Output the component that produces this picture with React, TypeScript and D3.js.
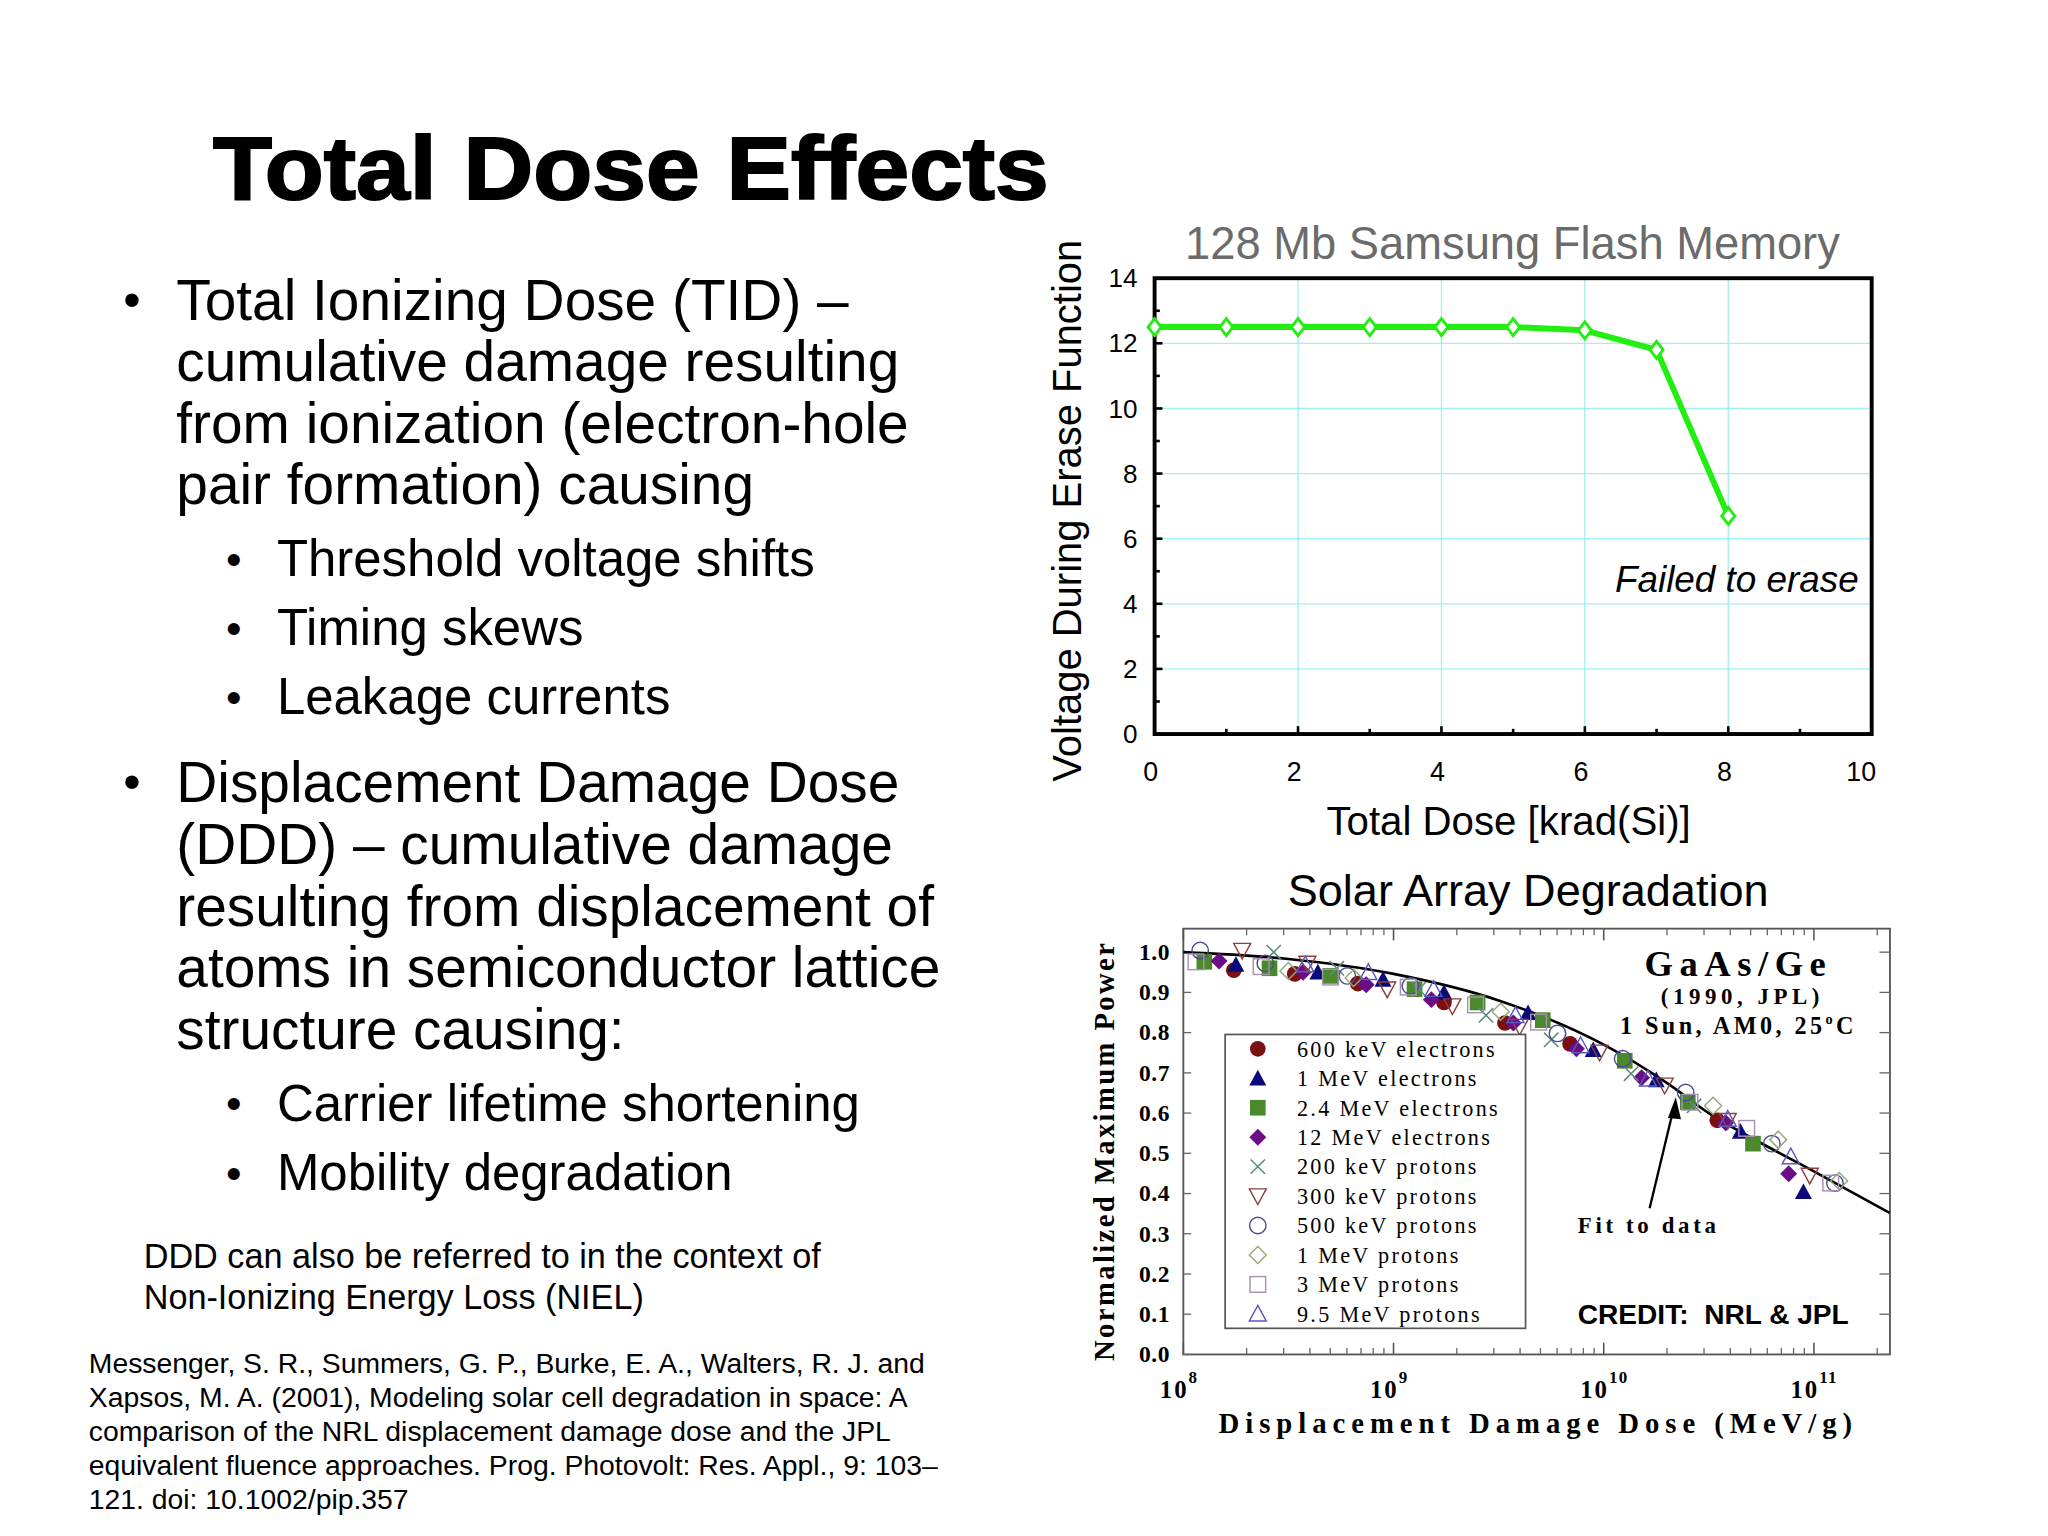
import React from 'react';
import * as d3 from 'd3';

// ---- top chart: 128 Mb Samsung flash ----
const flashDose = [0, 1, 2, 3, 4, 5, 6, 7, 8];
const flashVoltage = [12.5, 12.5, 12.5, 12.5, 12.5, 12.5, 12.4, 11.8, 6.7];
const flashXTicks = [0, 2, 4, 6, 8, 10];
const flashYTicks = [0, 2, 4, 6, 8, 10, 12, 14];

// ---- bottom chart: solar array degradation, [log10(DDD), P/P0] ----
const fitCurve: [number, number][] = [
  [8, 1.0], [8.5, 0.983], [9, 0.946], [9.5, 0.88], [10, 0.77],
  [10.3, 0.675], [10.5, 0.6], [10.75, 0.525], [11, 0.455], [11.36, 0.352],
];
const e600keV: [number, number][] = [
  [8.24, 0.955], [8.53, 0.946], [8.83, 0.922], [9.24, 0.875], [9.53, 0.824], [9.84, 0.772], [10.54, 0.582],
];
const e1MeV: [number, number][] = [
  [8.25, 0.969], [8.64, 0.95], [8.95, 0.932], [9.24, 0.899], [9.64, 0.849], [9.95, 0.757], [10.25, 0.682], [10.65, 0.554], [10.95, 0.404],
];
const e24MeV: [number, number][] = [
  [8.1, 0.976], [8.41, 0.96], [8.7, 0.941], [9.1, 0.908], [9.4, 0.875], [9.71, 0.831], [10.1, 0.73], [10.4, 0.627], [10.71, 0.524],
];
const e12MeV: [number, number][] = [
  [8.17, 0.978], [8.57, 0.95], [8.87, 0.919], [9.18, 0.882], [9.57, 0.824], [9.87, 0.76], [10.18, 0.688], [10.58, 0.576], [10.88, 0.449],
];
const p200keV: [number, number][] = [
  [8.43, 1.0], [8.73, 0.96], [9.12, 0.908], [9.44, 0.843], [9.75, 0.782], [10.13, 0.698], [10.43, 0.618],
];
const p300keV: [number, number][] = [
  [8.28, 1.004], [8.59, 0.972], [8.97, 0.908], [9.28, 0.866], [9.6, 0.815], [9.98, 0.751], [10.29, 0.669], [10.59, 0.581], [10.98, 0.445],
];
const p500keV: [number, number][] = [
  [8.08, 1.004], [8.39, 0.972], [8.78, 0.941], [9.08, 0.916], [9.78, 0.798], [10.09, 0.735], [10.39, 0.651], [10.8, 0.524], [11.1, 0.426],
];
const p1MeV: [number, number][] = [
  [8.5, 0.953], [8.81, 0.936], [9.51, 0.852], [10.52, 0.618], [10.83, 0.534], [11.12, 0.431],
];
const p3MeV: [number, number][] = [
  [8.06, 0.976], [8.37, 0.964], [8.7, 0.938], [9.07, 0.913], [9.39, 0.869], [9.69, 0.826], [10.41, 0.627], [10.68, 0.562], [11.08, 0.426],
];
const p95MeV: [number, number][] = [
  [8.58, 0.969], [8.88, 0.95], [9.19, 0.908], [9.58, 0.843], [9.89, 0.768], [10.21, 0.685], [10.59, 0.585], [10.89, 0.492],
];

type Shape = 'circle' | 'tri' | 'square' | 'diamond' | 'x' | 'triDown' | 'oCircle' | 'oDiamond' | 'oSquare' | 'oTri';
const solarSeries: { name: string; shape: Shape; color: string; data: [number, number][] }[] = [
  { name: '600 keV electrons', shape: 'circle', color: '#7b0f12', data: e600keV },
  { name: '1 MeV electrons', shape: 'tri', color: '#0a0a7a', data: e1MeV },
  { name: '2.4 MeV electrons', shape: 'square', color: '#4b8a2c', data: e24MeV },
  { name: '12 MeV electrons', shape: 'diamond', color: '#6a0d86', data: e12MeV },
  { name: '200 keV protons', shape: 'x', color: '#5a8c80', data: p200keV },
  { name: '300 keV protons', shape: 'triDown', color: '#8c4040', data: p300keV },
  { name: '500 keV protons', shape: 'oCircle', color: '#4c4c8c', data: p500keV },
  { name: '1 MeV protons', shape: 'oDiamond', color: '#90aa78', data: p1MeV },
  { name: '3 MeV protons', shape: 'oSquare', color: '#a890b0', data: p3MeV },
  { name: '9.5 MeV protons', shape: 'oTri', color: '#5a5abf', data: p95MeV },
];
const solarYTicks = [0, 0.1, 0.2, 0.3, 0.4, 0.5, 0.6, 0.7, 0.8, 0.9, 1.0];
const solarXDecades = [8, 9, 10, 11];

const SANS = "'Liberation Sans', Arial, Helvetica, sans-serif";
const SERIF = "'Liberation Serif', 'Times New Roman', serif";

function Marker({ shape, x, y, color }: { shape: Shape; x: number; y: number; color: string }) {
  const t = `translate(${x},${y})`;
  switch (shape) {
    case 'circle':
      return <circle cx={x} cy={y} r={6} fill={color} />;
    case 'tri':
      return <path transform={t} d="M0,-6.5L6.5,5.5L-6.5,5.5Z" fill={color} />;
    case 'square':
      return <rect x={x - 6} y={y - 6} width={12} height={12} fill={color} />;
    case 'diamond':
      return <path transform={t} d="M0,-6.5L6.5,0L0,6.5L-6.5,0Z" fill={color} />;
    case 'x':
      return <path transform={t} d="M-5.5,-5.5L5.5,5.5M-5.5,5.5L5.5,-5.5" stroke={color} strokeWidth={1.2} fill="none" />;
    case 'triDown':
      return <path transform={t} d="M-6.5,-5.5L6.5,-5.5L0,6.5Z" stroke={color} strokeWidth={1.1} fill="none" />;
    case 'oCircle':
      return <circle cx={x} cy={y} r={6.3} stroke={color} strokeWidth={1.1} fill="none" />;
    case 'oDiamond':
      return <path transform={t} d="M0,-6.5L6.5,0L0,6.5L-6.5,0Z" stroke={color} strokeWidth={1.1} fill="none" />;
    case 'oSquare':
      return <rect x={x - 6} y={y - 6} width={12} height={12} stroke={color} strokeWidth={1.1} fill="none" />;
    case 'oTri':
      return <path transform={t} d="M0,-6.5L6.5,5.5L-6.5,5.5Z" stroke={color} strokeWidth={1.1} fill="none" />;
  }
}

function FlashChart() {
  const L = 884, R = 1433, T = 213, B = 562;
  const x = d3.scaleLinear().domain([0, 10]).range([L, R]);
  const y = d3.scaleLinear().domain([0, 14]).range([B, T]);
  const pts = flashDose.map((d, i) => [x(d), y(flashVoltage[i])] as [number, number]);
  const line = d3.line()(pts) || '';
  const gridX = flashXTicks.filter((v) => v > 0 && v < 10);
  const gridY = flashYTicks.filter((v) => v > 0 && v < 14);
  const minorX = d3.range(1, 10);
  const minorY = d3.range(1, 14);
  return (
    <g>
      <text x={1158} y={198} textAnchor="middle" fontFamily={SANS} fontSize={34.7} fill="#6b6b6b">
        128 Mb Samsung Flash Memory
      </text>
      {gridX.map((v) => (
        <line key={'gx' + v} x1={x(v)} x2={x(v)} y1={T} y2={B} stroke="#9ff0f0" strokeWidth={1} />
      ))}
      {gridY.map((v) => (
        <line key={'gy' + v} x1={L} x2={R} y1={y(v)} y2={y(v)} stroke="#9ff0f0" strokeWidth={1} />
      ))}
      {minorX.map((v) => (
        <line key={'mx' + v} x1={x(v)} x2={x(v)} y1={B} y2={B - (v % 2 === 0 ? 6 : 4)} stroke="#000" strokeWidth={2} />
      ))}
      {minorY.map((v) => (
        <line key={'my' + v} x1={L} x2={L + (v % 2 === 0 ? 6 : 4)} y1={y(v)} y2={y(v)} stroke="#000" strokeWidth={2} />
      ))}
      <rect x={L} y={T} width={R - L} height={B - T} fill="none" stroke="#000" strokeWidth={3} />
      <path d={line} fill="none" stroke="#22ee11" strokeWidth={4.5} strokeLinejoin="round" />
      {pts.map(([px, py], i) => (
        <path key={i} transform={`translate(${px},${py})`} d="M0,-6.5L5,0L0,6.5L-5,0Z" fill="#fff" stroke="#22ee11" strokeWidth={2.2} />
      ))}
      {flashYTicks.map((v) => (
        <text key={'yl' + v} x={871} y={y(v) + 7} textAnchor="end" fontFamily={SANS} fontSize={20} fill="#000">
          {v}
        </text>
      ))}
      {flashXTicks.map((v) => (
        <text key={'xl' + v} x={x(v) - (v === 10 ? 8 : 3)} y={598} textAnchor="middle" fontFamily={SANS} fontSize={20.5} fill="#000">
          {v}
        </text>
      ))}
      <text transform="translate(828,391) rotate(-90)" textAnchor="middle" fontFamily={SANS} fontSize={30.6} fill="#000">
        Voltage During Erase Function
      </text>
      <text x={1155} y={639} textAnchor="middle" fontFamily={SANS} fontSize={30.8} fill="#000">
        Total Dose [krad(Si)]
      </text>
      <text x={1423} y={453} textAnchor="end" fontFamily={SANS} fontStyle="italic" fontSize={28.2} fill="#000">
        Failed to erase
      </text>
    </g>
  );
}

function SolarChart() {
  const L = 906, R = 1447, T = 711, B = 1037;
  const x = d3.scaleLog().domain([1e8, 2.3e11]).range([L, R]);
  const y = d3.scaleLinear().domain([0, 1]).range([B, 729]);
  const toXY = (d: [number, number]) => [x(Math.pow(10, d[0])), y(d[1])] as [number, number];
  const fit = d3.line().curve(d3.curveMonotoneX)(fitCurve.map(toXY)) || '';
  const minor: number[] = [];
  solarXDecades.forEach((e) => {
    for (let k = 2; k <= 9; k++) {
      const v = k * Math.pow(10, e);
      if (v < 2.3e11) minor.push(v);
    }
  });
  const legendRows = solarSeries.map((s, i) => ({ ...s, yy: 803 + i * 22.55 }));
  return (
    <g>
      <text x={1170} y={694} textAnchor="middle" fontFamily={SANS} fontSize={34.5} fill="#000">
        Solar Array Degradation
      </text>
      <rect x={L} y={T} width={R - L} height={B - T} fill="#fff" stroke="#555" strokeWidth={1.4} />
      {solarYTicks.map((v) => (
        <g key={'yt' + v}>
          <line x1={R} x2={R - 8} y1={y(v)} y2={y(v)} stroke="#666" strokeWidth={1} />
          <line x1={L} x2={L + 6} y1={y(v)} y2={y(v)} stroke="#666" strokeWidth={1} />
          <text x={896} y={y(v) + 6} textAnchor="end" fontFamily={SERIF} fontWeight="bold" fontSize={18} letterSpacing={0.5} fill="#000">
            {v.toFixed(1)}
          </text>
        </g>
      ))}
      {minor.map((v, i) => (
        <g key={'mn' + i}>
          <line x1={x(v)} x2={x(v)} y1={B} y2={B - 5} stroke="#666" strokeWidth={1} />
          <line x1={x(v)} x2={x(v)} y1={T} y2={T + 5} stroke="#666" strokeWidth={1} />
        </g>
      ))}
      {solarXDecades.map((e) => (
        <g key={'xd' + e}>
          <line x1={x(Math.pow(10, e))} x2={x(Math.pow(10, e))} y1={B} y2={B - 9} stroke="#555" strokeWidth={1.2} />
          <line x1={x(Math.pow(10, e))} x2={x(Math.pow(10, e))} y1={T} y2={T + 9} stroke="#555" strokeWidth={1.2} />
          <text x={x(Math.pow(10, e)) - 18} y={1070} fontFamily={SERIF} fontWeight="bold" fontSize={19} letterSpacing={1.5} fill="#000">
            10
            <tspan dy={-11} fontSize={13} letterSpacing={1}>
              {e}
            </tspan>
          </text>
        </g>
      ))}
      <path d={fit} fill="none" stroke="#000" strokeWidth={2} />
      {solarSeries.map((s) =>
        s.data.map((d, i) => {
          const [px, py] = toXY(d);
          return <Marker key={s.name + i} shape={s.shape} x={px} y={py} color={s.color} />;
        })
      )}
      <rect x={938} y={792} width={230} height={225} fill="#fff" stroke="#555" strokeWidth={1.3} />
      {legendRows.map((s) => (
        <g key={'lg' + s.name}>
          <Marker shape={s.shape} x={963} y={s.yy} color={s.color} />
          <text x={993} y={s.yy + 6} fontFamily={SERIF} fontSize={17} letterSpacing={1.75} fill="#000">
            {s.name}
          </text>
        </g>
      ))}
      <text x={1331} y={747} textAnchor="middle" fontFamily={SERIF} fontWeight="bold" fontSize={28} letterSpacing={5} fill="#000">
        GaAs/Ge
      </text>
      <text x={1334} y={769} textAnchor="middle" fontFamily={SERIF} fontWeight="bold" fontSize={17.5} letterSpacing={3.5} fill="#000">
        (1990, JPL)
      </text>
      <text x={1331} y={792} textAnchor="middle" fontFamily={SERIF} fontWeight="bold" fontSize={18.5} letterSpacing={2.6} fill="#000">
        1 Sun, AM0, 25
        <tspan dy={-8} fontSize={11}>o</tspan>
        <tspan dy={8}>C</tspan>
      </text>
      <line x1={1263} y1={925} x2={1281} y2={850} stroke="#000" strokeWidth={1.8} />
      <path d="M1283,840L1277,856L1287,857Z" fill="#000" />
      <text x={1208} y={944} fontFamily={SERIF} fontWeight="bold" fontSize={17.5} letterSpacing={2.8} fill="#000">
        Fit to data
      </text>
      <text x={1208} y={1014} fontFamily={SANS} fontWeight="bold" fontSize={21.5} fill="#000" xmlSpace="preserve">
        CREDIT:  NRL &amp; JPL
      </text>
      <text transform="translate(853,882) rotate(-90)" textAnchor="middle" fontFamily={SERIF} fontWeight="bold" fontSize={22} textLength={320} lengthAdjust="spacing" fill="#000">
        Normalized Maximum Power
      </text>
      <text x={933} y={1097} fontFamily={SERIF} fontWeight="bold" fontSize={22} textLength={485} lengthAdjust="spacing" fill="#000">
        Displacement Damage Dose (MeV/g)
      </text>
    </g>
  );
}

const mainBullet1 = [
  'Total Ionizing Dose (TID) –',
  'cumulative damage resulting',
  'from ionization (electron-hole',
  'pair formation) causing',
];
const subBullets1 = ['Threshold voltage shifts', 'Timing skews', 'Leakage currents'];
const mainBullet2 = [
  'Displacement Damage Dose',
  '(DDD) – cumulative damage',
  'resulting from displacement of',
  'atoms in semiconductor lattice',
  'structure causing:',
];
const subBullets2 = ['Carrier lifetime shortening', 'Mobility degradation'];
const nielNote = ['DDD can also be referred to in the context of', 'Non-Ionizing Energy Loss (NIEL)'];
const reference = [
  'Messenger, S. R., Summers, G. P., Burke, E. A., Walters, R. J. and',
  'Xapsos, M. A. (2001), Modeling solar cell degradation in space: A',
  'comparison of the NRL displacement damage dose and the JPL',
  'equivalent fluence approaches. Prog. Photovolt: Res. Appl., 9: 103–',
  '121. doi: 10.1002/pip.357',
];

function LeftText() {
  return (
    <g fontFamily={SANS} fill="#000">
      <text x={163} y={152} fontSize={68} fontWeight="bold" textLength={640} lengthAdjust="spacingAndGlyphs" stroke="#000" strokeWidth={1.5}>
        Total Dose Effects
      </text>
      <text x={101} y={243} fontSize={38} textAnchor="middle">•</text>
      {mainBullet1.map((s, i) => (
        <text key={'m1' + i} x={135} y={245 + i * 47} fontSize={43.5}>
          {s}
        </text>
      ))}
      {subBullets1.map((s, i) => (
        <g key={'s1' + i}>
          <text x={179} y={440 + i * 53} fontSize={34} textAnchor="middle">•</text>
          <text x={212} y={441 + i * 53} fontSize={39}>
            {s}
          </text>
        </g>
      ))}
      <text x={101} y={612} fontSize={38} textAnchor="middle">•</text>
      {mainBullet2.map((s, i) => (
        <text key={'m2' + i} x={135} y={614 + i * 47.3} fontSize={43.5}>
          {s}
        </text>
      ))}
      {subBullets2.map((s, i) => (
        <g key={'s2' + i}>
          <text x={179} y={857 + i * 53} fontSize={34} textAnchor="middle">•</text>
          <text x={212} y={858 + i * 53} fontSize={39}>
            {s}
          </text>
        </g>
      ))}
      {nielNote.map((s, i) => (
        <text key={'n' + i} x={110} y={971 + i * 31} fontSize={26.2}>
          {s}
        </text>
      ))}
      {reference.map((s, i) => (
        <text key={'r' + i} x={68} y={1051 + i * 26} fontSize={21.7}>
          {s}
        </text>
      ))}
    </g>
  );
}

export default function App() {
  return (
    <svg
      width={2048}
      height={1536}
      viewBox="0 0 1568 1176"
      style={{ position: 'absolute', left: 0, top: 0, background: '#fff' }}
    >
      <rect x={0} y={0} width={1568} height={1176} fill="#fff" />
      <LeftText />
      <FlashChart />
      <SolarChart />
    </svg>
  );
}
